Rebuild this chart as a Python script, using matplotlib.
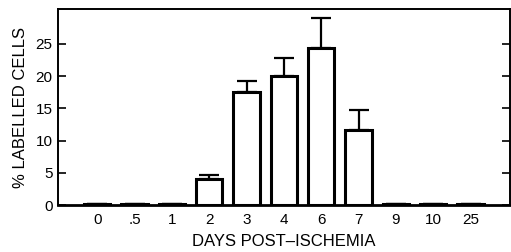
import matplotlib.pyplot as plt

plt.rcParams['font.family'] = ['Liberation Sans', 'DejaVu Sans']

days = ['0', '.5', '1', '2', '3', '4', '6', '7', '9', '10', '25']
labelled = [0.15, 0.15, 0.15, 4.1, 17.5, 20.0, 24.3, 11.6, 0.15, 0.15, 0.15]
err = [0, 0, 0, 0.5, 1.8, 2.8, 4.7, 3.1, 0, 0, 0]

fig = plt.figure(figsize=(5.11, 2.52), dpi=100)
ax = fig.add_axes([0.1135, 0.1865, 0.884, 0.777])

x = range(len(days))
ax.bar(x, labelled, width=0.7, color='white', edgecolor='black', linewidth=2.2,
       yerr=[[0] * len(err), err], error_kw=dict(ecolor='black', elinewidth=1.6,
                                                   capsize=7.5, capthick=1.6))

ax.set_xlim(-1.05, 11.05)
ax.set_ylim(0, 30.4)
ax.set_xticks(list(x))
ax.set_xticklabels(days, fontsize=11)
ax.set_yticks([0, 5, 10, 15, 20, 25])
ax.tick_params(axis='y', direction='in', length=6, width=1.2, right=True,
               labelsize=11, pad=4)
ax.tick_params(axis='x', length=0, pad=6)
for s in ax.spines.values():
    s.set_linewidth(1.4)
ax.spines['bottom'].set_linewidth(2)

ax.set_xlabel('DAYS POST\u2013ISCHEMIA', fontsize=12, labelpad=5)
ax.set_ylabel('% LABELLED CELLS', fontsize=12, labelpad=5)

fig.savefig('out.png', dpi=100)
